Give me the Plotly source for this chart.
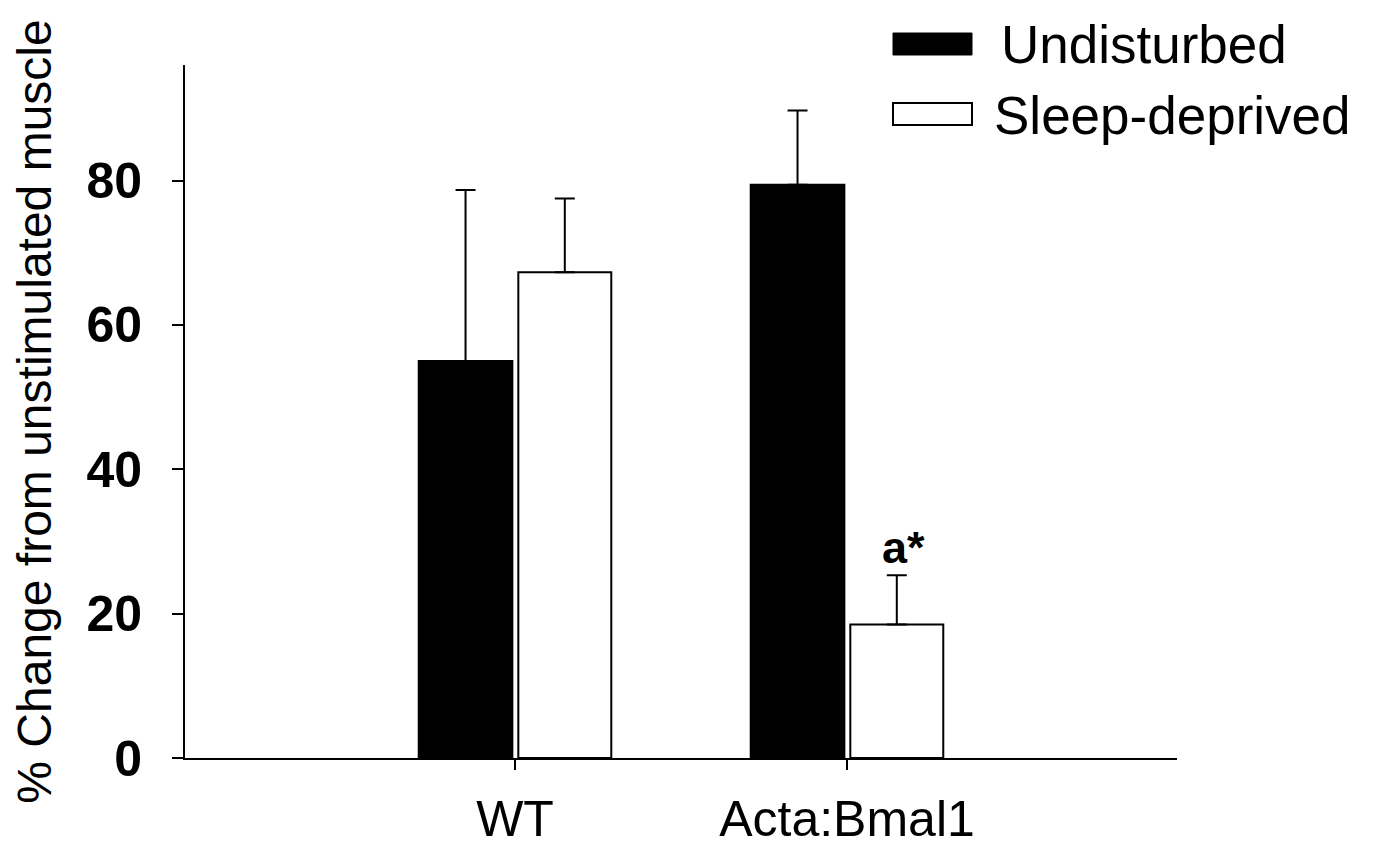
import plotly.graph_objects as go

categories = ["WT", "Acta:Bmal1"]
undisturbed = [55.0, 79.4]
undisturbed_err = [23.7, 10.3]
sleep_deprived = [67.3, 18.5]
sleep_deprived_err = [10.2, 6.8]
y_ticks = [0, 20, 40, 60, 80]

FONT = "Liberation Sans, Arial, sans-serif"

# page body has an 8px margin; plot area in page pixels: x 185..1177, y 65..758
PX0, PX1, PY0, PY1 = 185, 1177, 65, 758


def px(x):
    return (x - PX0) / (PX1 - PX0)


def py(y):
    return (PY1 - y) / (PY1 - PY0)


fig = go.Figure()
fig.add_trace(go.Bar(
    x=categories, y=undisturbed, name="Undisturbed",
    marker=dict(color="black", line=dict(color="black", width=2)),
    offset=-0.29, width=0.282,
    error_y=dict(type="data", array=undisturbed_err, symmetric=False,
                 arrayminus=[0, 0], color="black", thickness=2, width=10),
    showlegend=False,
))
fig.add_trace(go.Bar(
    x=categories, y=sleep_deprived, name="Sleep-deprived",
    marker=dict(color="white", line=dict(color="black", width=2)),
    offset=0.01, width=0.28,
    error_y=dict(type="data", array=sleep_deprived_err, symmetric=False,
                 arrayminus=[0, 0], color="black", thickness=2, width=10),
    showlegend=False,
))

# significance marker
fig.add_annotation(x=1.15, y=sleep_deprived[1] + sleep_deprived_err[1],
                   text="<b>a*</b>", showarrow=False, yanchor="bottom",
                   xshift=7, yshift=0,
                   font=dict(family=FONT, size=45, color="black"))

# custom legend
fig.add_shape(type="rect", xref="paper", yref="paper",
              x0=px(893), x1=px(972), y0=py(55), y1=py(33),
              fillcolor="black", line=dict(color="black", width=1))
fig.add_shape(type="rect", xref="paper", yref="paper",
              x0=px(893), x1=px(972), y0=py(125), y1=py(103),
              fillcolor="white", line=dict(color="black", width=2))
fig.add_annotation(xref="paper", yref="paper", x=px(999), y=py(45),
                   text="Undisturbed", showarrow=False,
                   xanchor="left", yanchor="middle",
                   font=dict(family=FONT, size=53, color="black"))
fig.add_annotation(xref="paper", yref="paper", x=px(992), y=py(116),
                   text="Sleep-deprived", showarrow=False,
                   xanchor="left", yanchor="middle",
                   font=dict(family=FONT, size=53, color="black"))

fig.update_layout(
    width=1372, height=844,
    margin=dict(l=177, r=203, t=57, b=94, autoexpand=False),
    plot_bgcolor="white", paper_bgcolor="white",
    barmode="group",
    font=dict(family=FONT, color="black"),
)
fig.update_xaxes(
    type="category", range=[-0.994, 1.994],
    showline=True, linecolor="black", linewidth=2,
    ticks="outside", ticklen=10, tickwidth=2, tickcolor="black",
    tickfont=dict(family=FONT, size=50, color="black"),
    ticklabelstandoff=6,
    showgrid=False, zeroline=False,
)
fig.update_yaxes(
    range=[0, 96], tickvals=y_ticks,
    ticktext=[f"<b>{v}</b>" for v in y_ticks],
    showline=True, linecolor="black", linewidth=2,
    ticks="outside", ticklen=11, tickwidth=2, tickcolor="black",
    tickfont=dict(family=FONT, size=50, color="black"),
    ticklabelstandoff=20,
    showgrid=False, zeroline=False,
    title=dict(text="% Change from unstimulated muscle",
               font=dict(family=FONT, size=48, color="black"), standoff=32),
)

fig.write_html("out.html")
